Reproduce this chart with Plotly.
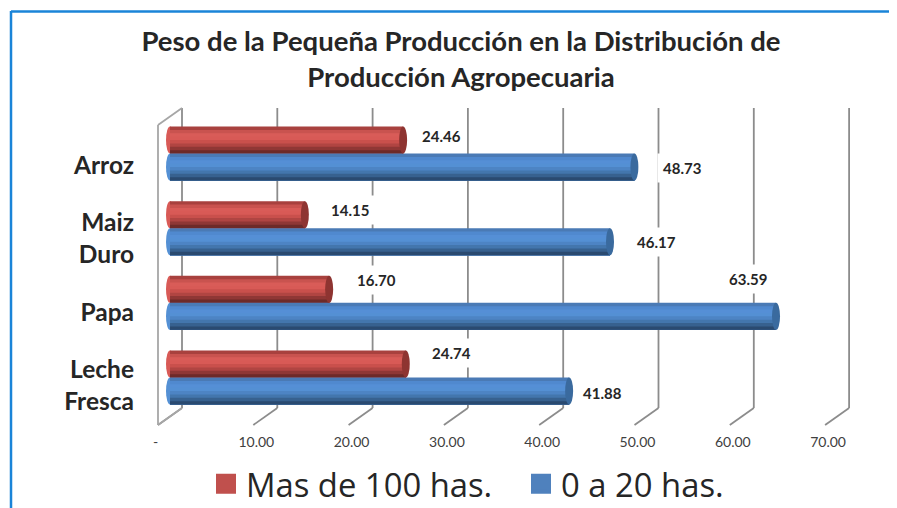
import plotly.graph_objects as go

categories = ["Arroz", "Maiz Duro", "Papa", "Leche Fresca"]
mas_100 = [24.46, 14.15, 16.70, 24.74]
de_0_20 = [48.73, 46.17, 63.59, 41.88]
tick_vals = [0, 10, 20, 30, 40, 50, 60, 70]
tick_text = ["-\u00a0\u00a0\u00a0", "10.00", "20.00", "30.00", "40.00", "50.00", "60.00", "70.00"]

# etiquetas de categoria: una marca por linea para controlar el interlineado
cat_lines = ["Arroz", "Maiz", "Duro", "Papa", "Leche", "Fresca"]
cat_line_pos = [0.154, 0.917, 1.346, 2.123, 2.886, 3.314]

RED = ["#a8413e", "#c9534f", "#d95c58", "#d85a56", "#c9504c", "#b04542", "#8f3735", "#6d2a28"]
BLUE = ["#4a7ab5", "#5089cf", "#558fd6", "#5490d4", "#4d84c4", "#4376ad", "#37618f", "#2a4a70"]

# la pagina deja 8 px de margen, las medidas en px son de la ventana de 897x508
OFF = 8
W, H = 897 - OFF, 508 - OFF
PX_X0, PX_UNIT = 170, 9.53    # px del cero y px por unidad
PX_Y0, PX_CAT = 153.5, 74.67  # px de la primera categoria y px entre categorias
DEPTH = 12 / PX_UNIT          # profundidad 3D en unidades del eje
BAR_H = 27 / PX_CAT
GRIS = "#8c8c8c"


def py(px):
    return (px - PX_Y0) / PX_CAT


def paper_x(px):
    return (px - OFF) / W


def paper_y(px):
    return 1 - (px - OFF) / H


TOP, FLOOR, FRONT = py(108), py(408), py(425)

fig = go.Figure()
shapes = []


def wall_line(xs, ys, color):
    # las shapes "below" quedan debajo de las barras, un Scatter no
    for i in range(len(xs) - 1):
        shapes.append(dict(type="line", xref="x", yref="y", layer="below",
                           x0=xs[i], y0=ys[i], x1=xs[i + 1], y1=ys[i + 1],
                           line=dict(color=color, width=1.8)))


# pared del fondo y piso
for v in tick_vals:
    wall_line([v + DEPTH, v + DEPTH, v - DEPTH], [TOP, FLOOR, FRONT], GRIS)
wall_line([DEPTH, -DEPTH, -DEPTH, DEPTH], [TOP, py(125), FRONT, FLOOR], "#a6a6a6")

# barras "cilindricas": franjas de color que se solapan hacia abajo
for vals, shades, off, cap in [(mas_100, RED, -BAR_H / 2, "#8e3431"), (de_0_20, BLUE, BAR_H / 2, "#3a6a9e")]:
    n = len(shades)
    for k, c in enumerate(shades):
        h = (n - k) * BAR_H / n
        fig.add_trace(go.Bar(
            x=vals,
            y=[i + off + BAR_H / 2 - h / 2 for i in range(len(vals))],
            orientation="h", width=h, marker=dict(color=c, line=dict(width=0)),
            showlegend=False, hoverinfo="skip"))
    for i, v in enumerate(vals):
        # extremo derecho y extremo redondeado izquierdo
        shapes.append(dict(type="circle", xref="x", yref="y", xsizemode="pixel",
                           xanchor=v, x0=-4, x1=4, y0=i + off - BAR_H / 2, y1=i + off + BAR_H / 2,
                           fillcolor=cap, line=dict(width=0), layer="above"))
        shapes.append(dict(type="circle", xref="x", yref="y", xsizemode="pixel",
                           xanchor=0, x0=-4, x1=4, y0=i + off - BAR_H / 2, y1=i + off + BAR_H / 2,
                           fillcolor=shades[3], line=dict(width=0), layer="below"))

# leyenda
fig.add_trace(go.Scatter(x=[None], y=[None], mode="markers", name="Mas de 100 has.",
                         marker=dict(symbol="square", size=16, color="#c0504d", line=dict(color="#c0504d", width=4))))
fig.add_trace(go.Scatter(x=[None], y=[None], mode="markers", name="0 a 20 has.",
                         marker=dict(symbol="square", size=16, color="#4f81bd", line=dict(color="#4f81bd", width=4))))

# marco azul de la imagen
for x0, y0, x1, y1 in [(paper_x(11), 0, paper_x(11), paper_y(11)), (paper_x(11), paper_y(11.5), 1, paper_y(11.5))]:
    shapes.append(dict(type="line", xref="paper", yref="paper", x0=x0, y0=y0, x1=x1, y1=y1,
                       line=dict(color="#1a84d8", width=2.5)))

# etiquetas de datos, movidas a mano como en el original
label_shift = {
    "mas": [(38, -4), (45, -5), (47, -9), (46, -11)],
    "de0": [(48, 1), (46, 0), (-28, -37), (33, 2)],
}
annotations = []
for vals, off, key in [(mas_100, -BAR_H / 2, "mas"), (de_0_20, BAR_H / 2, "de0")]:
    for i, v in enumerate(vals):
        dx, dy = label_shift[key][i]
        annotations.append(dict(
            x=v, y=i + off, xref="x", yref="y", text=f"{v:.2f}", showarrow=False,
            xshift=dx, yshift=-dy, bgcolor="white", borderpad=5,
            font=dict(family="Lato", size=15, color="#262626", weight="bold")))

fig.update_layout(
    width=W, height=H,
    barmode="overlay",
    paper_bgcolor="white", plot_bgcolor="white",
    margin=dict(l=0, r=0, t=0, b=0, autoexpand=False),
    title=dict(text="Peso de la Pequeña Producción en la Distribución de<br>Producción Agropecuaria",
               x=paper_x(461), xanchor="center", y=paper_y(51), yanchor="middle",
               font=dict(family="Lato", size=27.5, color="#262626", weight="bold")),
    xaxis=dict(range=[(OFF - PX_X0) / PX_UNIT, (897 - PX_X0) / PX_UNIT], showgrid=False, zeroline=False,
               tickmode="array", tickvals=[v + (161 - PX_X0) / PX_UNIT for v in tick_vals], ticktext=tick_text,
               anchor="free", position=paper_y(432), ticks="", showline=False,
               tickfont=dict(family="Lato", size=14, color="#404040")),
    yaxis=dict(range=[py(508), py(OFF)], showgrid=False, zeroline=False,
               tickmode="array", tickvals=cat_line_pos, ticktext=cat_lines,
               anchor="free", position=paper_x(134), ticks="", showline=False,
               tickfont=dict(family="Lato", size=24.5, color="#262626", weight="bold")),
    legend=dict(orientation="h", x=paper_x(206), y=paper_y(484), xanchor="left", yanchor="middle",
                entrywidth=270, entrywidthmode="pixels",
                bgcolor="rgba(0,0,0,0)", font=dict(family="Open Sans", size=32.8, color="#262626")),
    shapes=shapes,
    annotations=annotations,
)

fig.write_html("out.html")
